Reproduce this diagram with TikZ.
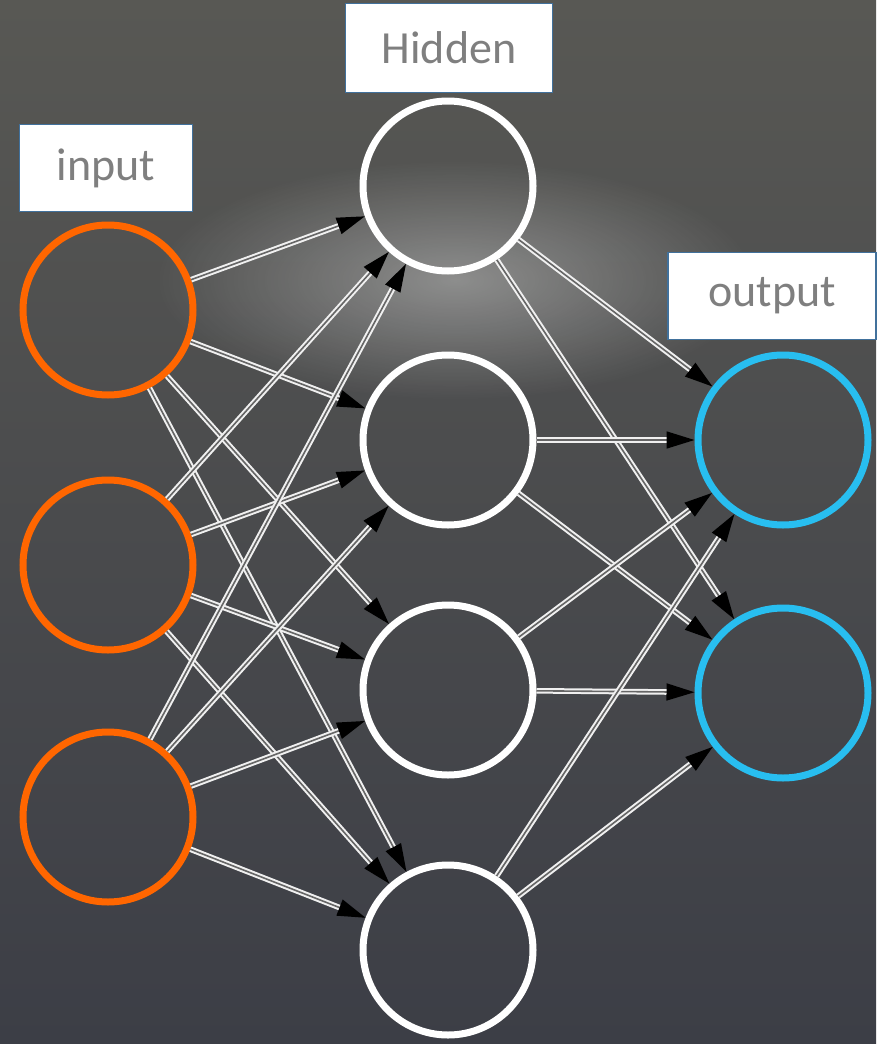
\documentclass[tikz,border=0pt]{standalone}
\usepackage{fontspec}
\setsansfont{Carlito}
\usetikzlibrary{arrows.meta,fadings}

\definecolor{inorange}{RGB}{255,102,0}
\definecolor{outblue}{RGB}{40,190,240}
\definecolor{boxblue}{RGB}{65,113,156}
\definecolor{bgtop}{RGB}{88,88,84}
\definecolor{bgbottom}{RGB}{60,62,70}
\definecolor{labelgray}{RGB}{127,127,127}

\tikzfading[name=glowfade,inner color=transparent!0,outer color=transparent!100]

\begin{document}
\begin{tikzpicture}[x=1pt,y=-1pt,
    neuron/.style={circle,minimum size=170pt,line width=7pt,inner sep=0pt},
    layerlabel/.style={draw=boxblue,line width=1.8pt,fill=white,text=labelgray,
        font=\sffamily\fontsize{46}{52}\selectfont,inner sep=0pt},
    link/.style={-{Triangle[length=28pt,width=17pt,color=black]},draw=black!60,line width=1.6pt,
        preaction={draw=white!88!gray,line width=5.6pt,-,shorten >=24pt}}]

    % background
    \useasboundingbox (0,0) rectangle (876,1044);
    \shade[top color=bgtop,bottom color=bgbottom] (0,0) rectangle (876,1044);
    \fill[white,opacity=0.35,path fading=glowfade] (455,280) ellipse (300pt and 120pt);

    % layers
    \node[neuron,draw=inorange] (in1) at (108,310) {};
    \node[neuron,draw=inorange] (in2) at (108,565) {};
    \node[neuron,draw=inorange] (in3) at (108,817) {};

    \node[neuron,draw=white] (hid1) at (448,186) {};
    \node[neuron,draw=white] (hid2) at (448,440) {};
    \node[neuron,draw=white] (hid3) at (448,690) {};
    \node[neuron,draw=white] (hid4) at (448,950) {};

    \node[neuron,draw=outblue] (out1) at (783,440) {};
    \node[neuron,draw=outblue] (out2) at (783,693) {};

    % labels
    \node[layerlabel,minimum width=173pt,minimum height=87pt] (inlabel) at (106,168) {input};
    \node[layerlabel,minimum width=207pt,minimum height=89pt] (hidlabel) at (449,48) {Hidden};
    \node[layerlabel,minimum width=208pt,minimum height=87pt] (outlabel) at (772,296) {output};

    % connections
    \foreach \i in {1,2,3}
        \foreach \h in {1,...,4}
            \draw[link] (in\i) -- (hid\h);
    \foreach \h in {1,...,4}
        \foreach \o in {1,2}
            \draw[link] (hid\h) -- (out\o);
\end{tikzpicture}
\end{document}
